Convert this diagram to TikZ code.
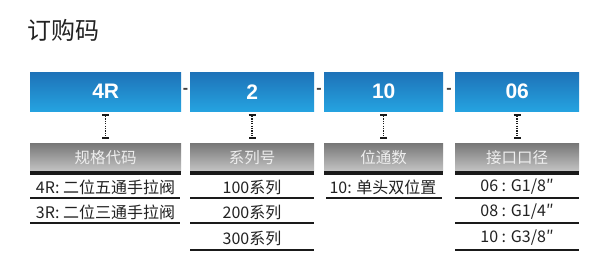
\documentclass[tikz,border=0pt]{standalone}
\usepackage{fontspec}
\setmainfont{Liberation Sans}
\newfontfamily\cjk{Noto Sans CJK SC}
\usetikzlibrary{arrows.meta}
\definecolor{bluetop}{HTML}{1E72B8}
\definecolor{bluebot}{HTML}{25A3E0}
\definecolor{graytop}{HTML}{777777}
\definecolor{graybot}{HTML}{C4C4C4}
\definecolor{txt}{HTML}{222222}
\definecolor{headtxt}{HTML}{EEEEEE}
\definecolor{barblack}{HTML}{1A1A1A}
\begin{document}
\begin{tikzpicture}[x=1pt,y=-1pt,
  bluebox/.style={anchor=north west, minimum height=39pt, inner sep=0pt,
    top color=bluetop, bottom color=bluebot, draw=none, text=white,
    font=\fontsize{21}{21}\selectfont\bfseries},
  headbox/.style={anchor=north west, minimum height=28pt, inner sep=0pt,
    top color=graytop, bottom color=graybot, draw=none, text=headtxt,
    font=\cjk\fontsize{15.5}{16}\selectfont},
  sep/.style={text=black!75, inner sep=0pt, font=\fontsize{16}{16}\selectfont\bfseries},
  conn/.style={draw=barblack, line width=1.5pt, dash pattern=on 1.2pt off 1.2pt,
    {Bar[width=7pt,line width=2pt]}-{Bar[width=7pt,line width=2pt]}},
  rowline/.style={draw=barblack, line width=1.3pt},
  rowtxt/.style={text=txt, inner sep=0pt, font=\cjk\fontsize{16}{16}\selectfont}]
\useasboundingbox (0,0) rectangle (603,274);
\fill[white] (0,0) rectangle (603,274);

\node[anchor=west, inner sep=0pt, text=txt, font=\cjk\fontsize{24}{24}\selectfont] (title) at (27,30) {订购码};

% blue code boxes
\node[bluebox, minimum width=151pt] (b1) at (30,72) {4R};
\node[bluebox, minimum width=124pt] (b2) at (190,72) {2};
\node[bluebox, minimum width=119pt] (b3) at (324,72) {10};
\node[bluebox, minimum width=124pt] (b4) at (455,72) {06};

\node[sep] (s1) at (185.5,91) {-};
\node[sep] (s2) at (319,91) {-};
\node[sep] (s3) at (449,91) {-};

% gray headers
\node[headbox, minimum width=151pt] (g1) at (30,143) {规格代码};
\node[headbox, minimum width=124pt] (g2) at (190,143) {系列号};
\node[headbox, minimum width=119pt] (g3) at (324,143) {位通数};
\node[headbox, minimum width=124pt] (g4) at (455,143) {接口口径};
\foreach \g in {g1,g2,g3,g4}{
  \fill[barblack] (\g.south west) rectangle ([yshift=-4pt]\g.south east);
}

% connectors
\foreach \i in {1,2,3,4}{
  \draw[conn] ([yshift=-3pt]b\i.south) -- ([yshift=4pt]g\i.north);
}

% column 1
\node[rowtxt] (r11) at (105.5,187) {4R: 二位五通手拉阀};
\node[rowtxt] (r12) at (105.5,212) {3R: 二位三通手拉阀};
\draw[rowline] (30,198) -- (180,198);
\draw[rowline] (30,223) -- (180,223);

% column 2
\node[rowtxt] (r21) at (252,187) {100系列};
\node[rowtxt] (r22) at (252,212) {200系列};
\node[rowtxt] (r23) at (252,238) {300系列};
\draw[rowline] (190,198) -- (314,198);
\draw[rowline] (190,223) -- (314,223);
\draw[rowline] (190,250) -- (314,250);

% column 3
\node[rowtxt] (r31) at (383,187) {10: 单头双位置};
\draw[rowline] (326,198) -- (442,198);

% column 4
\node[rowtxt] (r41) at (517,187) {06 : G1/8″};
\node[rowtxt] (r42) at (517,212) {08 : G1/4″};
\node[rowtxt] (r43) at (517,238) {10 : G3/8″};
\draw[rowline] (455,198) -- (579,198);
\draw[rowline] (455,223) -- (579,223);
\draw[rowline] (455,250) -- (579,250);
\end{tikzpicture}
\end{document}
